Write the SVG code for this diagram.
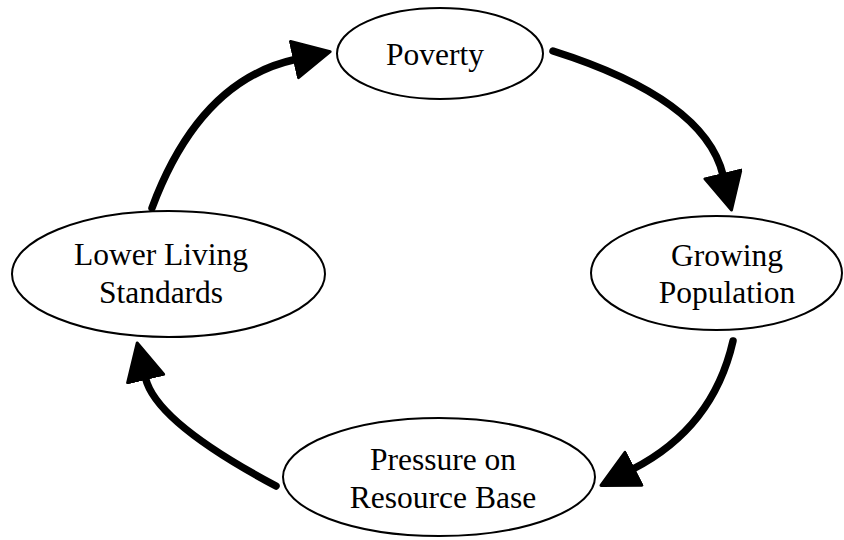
<svg xmlns="http://www.w3.org/2000/svg" width="844" height="540" viewBox="0 0 844 540">
<style>
.node{fill:#fff;stroke:#000;stroke-width:2}
.lbl{font-family:"Liberation Serif","Times New Roman",serif;font-size:31.5px;fill:#000;text-anchor:middle}
.edge{fill:none;stroke:#000;stroke-width:7.5;stroke-linecap:round}
</style>
<defs>
<marker id="head" markerUnits="userSpaceOnUse" markerWidth="44" markerHeight="44" refX="2" refY="20" orient="auto">
<path d="M1.5,1.5 L38,20 L1.5,38.5 Z" fill="#000" stroke="#000" stroke-width="3" stroke-linejoin="round"/>
</marker>
</defs>
<rect width="844" height="540" fill="#fff"/>
<g id="connectors">
<path class="edge" marker-end="url(#head)" d="M152,208 Q199.4,80.7 295,59.5"/>
<path class="edge" marker-end="url(#head)" d="M553,51 Q704.5,98.9 723,175"/>
<path class="edge" marker-end="url(#head)" d="M733,341 Q713.2,427.8 633,469"/>
<path class="edge" marker-end="url(#head)" d="M276,486 Q155.9,422.1 145.5,378"/>
</g>
<g id="poverty">
<ellipse class="node" cx="440" cy="53.5" rx="103" ry="45.5"/>
<text class="lbl" x="435" y="65">Poverty</text>
</g>
<g id="growing-population">
<ellipse class="node" cx="716.5" cy="273" rx="125.5" ry="57"/>
<text class="lbl" x="727" y="266">Growing</text>
<text class="lbl" x="727" y="303">Population</text>
</g>
<g id="pressure-on-resource-base">
<ellipse class="node" cx="439" cy="477" rx="156" ry="59"/>
<text class="lbl" x="443" y="470">Pressure on</text>
<text class="lbl" x="443" y="508">Resource Base</text>
</g>
<g id="lower-living-standards">
<ellipse class="node" cx="168.5" cy="274" rx="156.5" ry="63"/>
<text class="lbl" x="161" y="265">Lower Living</text>
<text class="lbl" x="161" y="303">Standards</text>
</g>
</svg>
